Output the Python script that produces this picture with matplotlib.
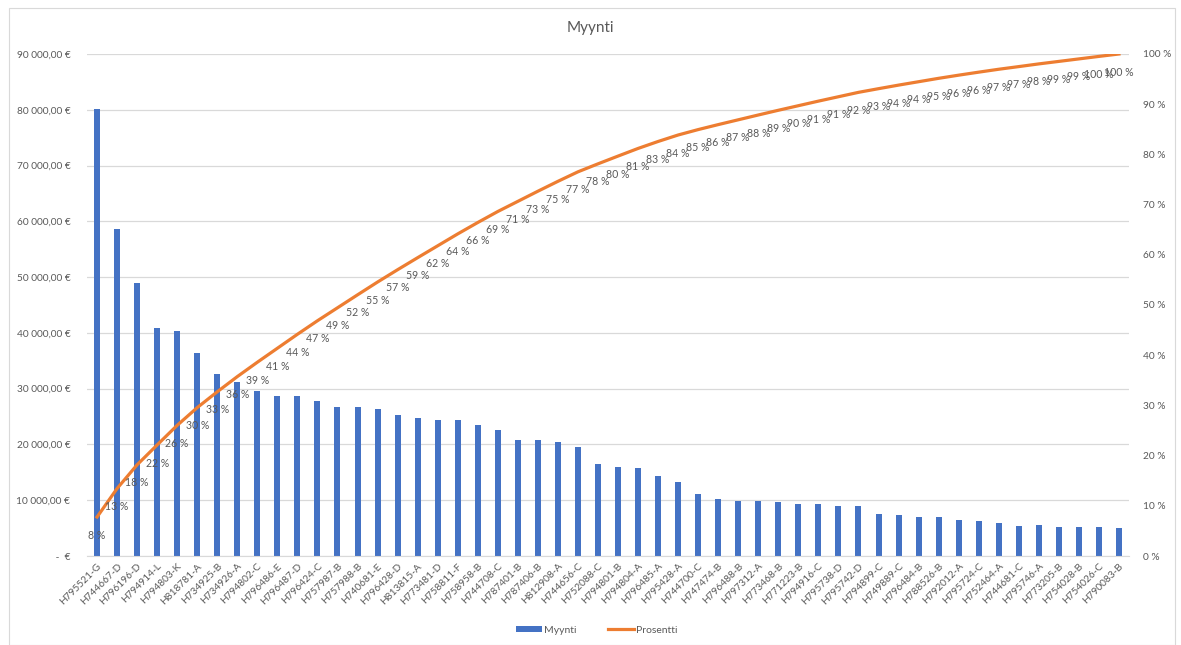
import numpy as np
import matplotlib
matplotlib.use("Agg")
import matplotlib.pyplot as plt
from matplotlib.ticker import FuncFormatter, MultipleLocator
from matplotlib.lines import Line2D
from matplotlib.patches import Patch

plt.rcParams['font.family'] = ['Lato', 'DejaVu Sans']

# data
products = [
    'H795521-G', 'H744667-D', 'H796196-D', 'H794914-L', 'H794803-K', 'H818781-A',
    'H734925-B', 'H734926-A', 'H794802-C', 'H796486-E', 'H796487-D', 'H796424-C',
    'H757987-B', 'H757988-B', 'H740681-E', 'H796428-D', 'H813815-A', 'H773481-D',
    'H758811-F', 'H758958-B', 'H744708-C', 'H787401-B', 'H787406-B', 'H812908-A',
    'H744656-C', 'H752088-C', 'H794801-B', 'H794804-A', 'H796485-A', 'H795428-A',
    'H744700-C', 'H747474-B', 'H796488-B', 'H797312-A', 'H773468-B', 'H771223-B',
    'H794916-C', 'H795738-D', 'H795742-D', 'H794899-C', 'H749889-C', 'H796484-B',
    'H788526-B', 'H792012-A', 'H795724-C', 'H752464-A', 'H744681-C', 'H795746-A',
    'H773205-B', 'H754028-B', 'H754026-C', 'H790083-B',
]
myynti = [
    80160, 58660, 48860, 40860, 40360, 36460, 32560, 31260, 29560, 28760,
    28760, 27860, 26660, 26660, 26360, 25360, 24760, 24460, 24460, 23460,
    22660, 20860, 20860, 20360, 19560, 16440, 15940, 15740, 14340, 13340,
    11140, 10240, 9890, 9890, 9710, 9410, 9410, 9040, 9040, 7540,
    7340, 6990, 6990, 6490, 6190, 5990, 5460, 5550, 5140, 5140,
    5140, 4950,
]

BLUE = '#4472C4'
ORANGE = '#ED7D31'
TXT = '#595959'
GRID = '#D9D9D9'

sales = np.array(myynti, dtype=float)
prosentti = np.cumsum(sales) / sales.sum() * 100
x = np.arange(len(products))

fig = plt.figure(figsize=(11.81, 6.45), dpi=100)
ax = fig.add_axes([87 / 1181, 89 / 645, 1042 / 1181, 502 / 645])
ax2 = ax.twinx()

ax.bar(x, sales, width=0.3, color=BLUE, zorder=2)
ax.set_xlim(-0.5, len(products) - 0.5)
ax.set_ylim(0, 90000)
ax.yaxis.set_major_locator(MultipleLocator(10000))


def eur(v, pos):
    if v == 0:
        return ' -  €'
    return f'{v:,.2f} €'.replace(',', ' ').replace('.', ',')


ax.yaxis.set_major_formatter(FuncFormatter(eur))
ax.grid(axis='y', color=GRID, linewidth=0.9, zorder=0)
ax.set_axisbelow(True)

ax.set_xticks(x)
ax.set_xticklabels(products, rotation=45, ha='right', rotation_mode='anchor',
                   fontsize=7.3, color=TXT)
ax.tick_params(axis='x', length=0, pad=4)
ax.tick_params(axis='y', length=0, labelsize=7.3, labelcolor=TXT, pad=12)

ax2.plot(x, prosentti, color=ORANGE, linewidth=2.3, zorder=3)
ax2.set_ylim(0, 100)
ax2.yaxis.set_major_locator(MultipleLocator(10))
ax2.yaxis.set_major_formatter(FuncFormatter(lambda v, p: f'{v:.0f} %'))
ax2.tick_params(axis='y', length=0, labelsize=7.3, labelcolor=TXT, pad=10)

for xi, p in zip(x, prosentti):
    ax2.annotate(f'{p:.0f} %', (xi, p), xytext=(0, -13), textcoords='offset points',
                 ha='center', va='center', fontsize=7.6, color=TXT)

for a in (ax, ax2):
    for s in a.spines.values():
        s.set_visible(False)
ax.spines['bottom'].set_visible(True)
ax.spines['bottom'].set_color(GRID)

fig.text(0.5, 0.957, 'Myynti', ha='center', va='center', fontsize=11, color=TXT)

handles = [Patch(facecolor=BLUE, label='Myynti'),
           Line2D([0], [0], color=ORANGE, linewidth=2.3, label='Prosentti')]
fig.legend(handles=handles, loc='center', bbox_to_anchor=(0.505, 0.023), ncol=2,
           frameon=False, fontsize=7.5, labelcolor=TXT, handlelength=2.5,
           handleheight=0.6, handletextpad=0.2, columnspacing=3.0)

fig.patches.append(plt.Rectangle((9 / 1181, 0), 1166 / 1181, 637 / 645,
                                 transform=fig.transFigure, fill=False,
                                 edgecolor=GRID, linewidth=0.8))

fig.savefig('out.png', dpi=100)
